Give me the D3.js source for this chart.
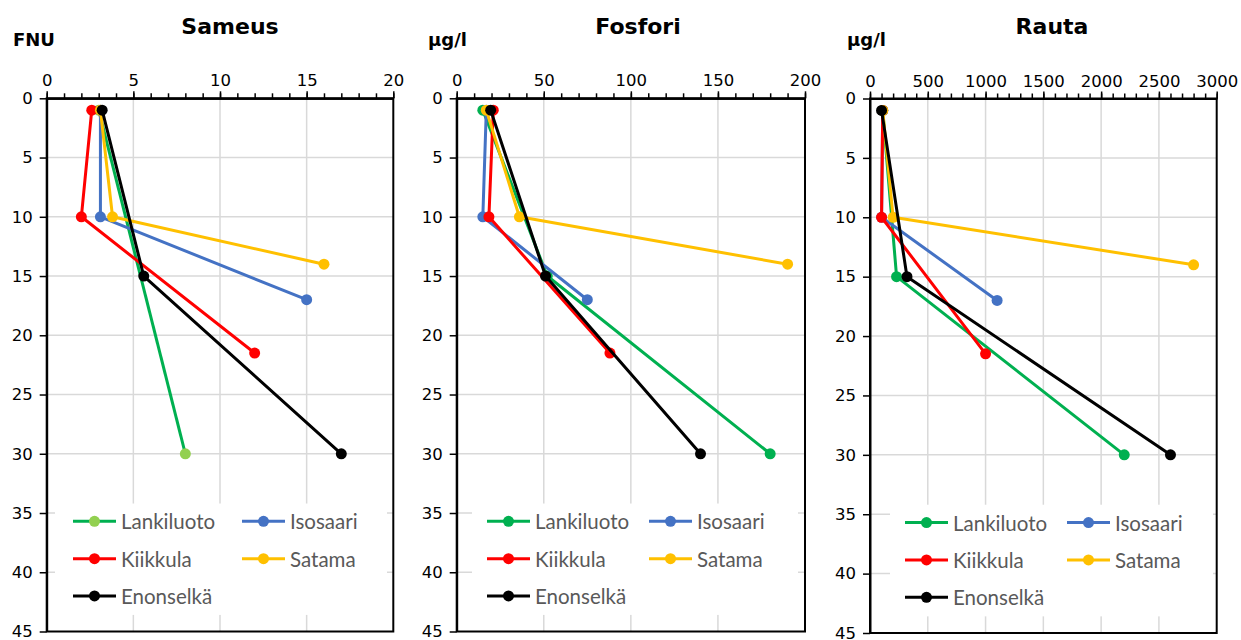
<!DOCTYPE html>
<html>
<head>
<meta charset="utf-8">
<script src="https://cdn.jsdelivr.net/npm/d3@7"></script>
<style>
  body { margin: 0; background: #fff; }
  .tick text { font-family: "DejaVu Sans", sans-serif; font-size: 16.5px; fill: #000; }
</style>
</head>
<body>
<svg id="chart" width="1241" height="640"></svg>
<script>
// stations, order = drawing order
const stations = ["Lankiluoto", "Isosaari", "Kiikkula", "Satama", "Enonselkä"];
const depthTicks = [0, 5, 10, 15, 20, 25, 30, 35, 40, 45];

// Sameus (FNU)
const sameusTicks = [0, 5, 10, 15, 20];
const sameusDepths = [[1, 30], [1, 10, 17], [1, 10, 21.5], [1, 10, 14], [1, 15, 30]];
const sameusValues = [[3.0, 8.0], [3.1, 3.1, 15], [2.6, 2.0, 12], [3.1, 3.8, 16], [3.2, 5.6, 17]];

// Fosfori (µg/l)
const fosforiTicks = [0, 50, 100, 150, 200];
const fosforiDepths = [[1, 15, 30], [1, 10, 17], [1, 10, 21.5], [1, 10, 14], [1, 15, 30]];
const fosforiValues = [[15, 52, 180], [17, 15, 75], [21, 18.5, 88], [17, 36, 190], [19.5, 51, 140]];

// Rauta (µg/l)
const rautaTicks = [0, 500, 1000, 1500, 2000, 2500, 3000];
const rautaDepths = [[1, 15, 30], [1, 10, 17], [1, 10, 21.5], [1, 10, 14], [1, 15, 30]];
const rautaValues = [[110, 230, 2200], [110, 100, 1100], [110, 100, 1000], [110, 200, 2800], [100, 320, 2600]];

const lineColors = ["#00b050", "#4472c4", "#ff0000", "#ffc000", "#000000"];

const panels = [
    {title: "Sameus", unit: "FNU", ticks: sameusTicks, minor: 1, depths: sameusDepths, values: sameusValues,
     x0: 46.7, x1: 393.3, y0: 98.3, y1: 631.5, titleX: 230, unitX: 13,
     markers: ["#92d050", "#4472c4", "#ff0000", "#ffc000", "#000000"],
     legend: {x: 55, w: 332, c1: 73, c2: 242}},
    {title: "Fosfori", unit: "µg/l", ticks: fosforiTicks, minor: 10, depths: fosforiDepths, values: fosforiValues,
     x0: 456.7, x1: 805, y0: 98.3, y1: 631.5, titleX: 638, unitX: 428,
     markers: lineColors,
     legend: {x: 472, w: 326, c1: 487, c2: 649}},
    {title: "Rauta", unit: "µg/l", ticks: rautaTicks, minor: 100, depths: rautaDepths, values: rautaValues,
     x0: 870, x1: 1216.7, y0: 98.5, y1: 633, titleX: 1052, unitX: 847,
     markers: lineColors,
     legend: {x: 890, w: 323, c1: 905, c2: 1067}}
]

const svg = d3.select("#chart")

function drawPanel(p) {
    const xScale = d3.scaleLinear()
            .domain([0, d3.max(p.ticks)])
            .range([p.x0, p.x1]),
          yScale = d3.scaleLinear()
            .domain([0, 45])
            .range([p.y0, p.y1])

    const g = svg.append("g")

    // grid
    g.append("g").selectAll("line")
        .data(p.ticks.slice(1, -1))
        .join("line")
        .attr("x1", d => xScale(d)).attr("x2", d => xScale(d))
        .attr("y1", p.y0).attr("y2", p.y1)
        .attr("stroke", "#d9d9d9").attr("stroke-width", 1.5)
    g.append("g").selectAll("line")
        .data(depthTicks.slice(1, -1))
        .join("line")
        .attr("x1", p.x0).attr("x2", p.x1)
        .attr("y1", d => yScale(d)).attr("y2", d => yScale(d))
        .attr("stroke", "#d9d9d9").attr("stroke-width", 1.5)

    // legend background hides the grid
    const lg = p.legend
    g.append("rect")
        .attr("x", lg.x).attr("y", yScale(34.2))
        .attr("width", lg.w).attr("height", yScale(43.6) - yScale(34.2))
        .attr("fill", "#fff")

    // frame
    g.append("rect")
        .attr("x", p.x0).attr("y", p.y0)
        .attr("width", p.x1 - p.x0).attr("height", p.y1 - p.y0)
        .attr("fill", "none").attr("stroke", "#000").attr("stroke-width", 2)

    // axes
    const minorAxis = d3.axisTop(xScale)
        .tickValues(d3.range(0, d3.max(p.ticks) + p.minor / 2, p.minor))
        .tickSize(5).tickSizeOuter(0).tickFormat("")
    const majorAxis = d3.axisTop(xScale)
        .tickValues(p.ticks).tickSize(7).tickSizeOuter(0).tickPadding(5)
        .tickFormat(d3.format("d"))
    const leftAxis = d3.axisLeft(yScale)
        .tickValues(depthTicks).tickSize(7).tickSizeOuter(0).tickPadding(7)

    const styleAxis = sel => {
        sel.select(".domain").attr("stroke", "#000").attr("stroke-width", 2)
        sel.selectAll(".tick line").attr("stroke", "#000").attr("stroke-width", 1.5)
    }
    g.append("g").attr("transform", `translate(0,${p.y0})`).call(minorAxis).call(styleAxis)
    g.append("g").attr("transform", `translate(0,${p.y0})`).call(majorAxis).call(styleAxis)
    g.append("g").attr("transform", `translate(${p.x0},0)`).call(leftAxis).call(styleAxis)

    // series
    const line = d3.line().x(d => xScale(d[0])).y(d => yScale(d[1]))
    stations.forEach((s, i) => {
        const pts = p.values[i].map((v, j) => [v, p.depths[i][j]])
        g.append("path")
            .attr("d", line(pts))
            .attr("fill", "none")
            .attr("stroke", lineColors[i])
            .attr("stroke-width", 3)
            .attr("stroke-linejoin", "round")
        g.append("g").selectAll("circle")
            .data(pts)
            .join("circle")
            .attr("cx", d => xScale(d[0]))
            .attr("cy", d => yScale(d[1]))
            .attr("r", 5.5)
            .attr("fill", p.markers[i])
    })

    // legend
    const rows = [yScale(35.7), yScale(38.85), yScale(42.0)]
    stations.forEach((s, i) => {
        const lx = i % 2 === 0 ? lg.c1 : lg.c2,
              ly = rows[Math.floor(i / 2)]
        const item = g.append("g")
        item.append("line")
            .attr("x1", lx).attr("x2", lx + 43)
            .attr("y1", ly).attr("y2", ly)
            .attr("stroke", lineColors[i]).attr("stroke-width", 3)
        item.append("circle")
            .attr("cx", lx + 21.5).attr("cy", ly).attr("r", 5.5)
            .attr("fill", p.markers[i])
        item.append("text")
            .attr("x", lx + 48).attr("y", ly)
            .attr("dominant-baseline", "central")
            .style("font-family", "Lato, sans-serif")
            .style("font-size", "20.5px")
            .attr("fill", "#595959")
            .text(s)
    })

    // title and unit
    svg.append("text")
        .attr("x", p.titleX).attr("y", 34)
        .attr("text-anchor", "middle")
        .style("font-family", "DejaVu Sans, sans-serif")
        .style("font-weight", "bold")
        .style("font-size", "22px")
        .text(p.title)
    svg.append("text")
        .attr("x", p.unitX).attr("y", 46)
        .style("font-family", "DejaVu Sans, sans-serif")
        .style("font-weight", "bold")
        .style("font-size", "18px")
        .text(p.unit)
}

panels.forEach(drawPanel)
</script>
</body>
</html>
